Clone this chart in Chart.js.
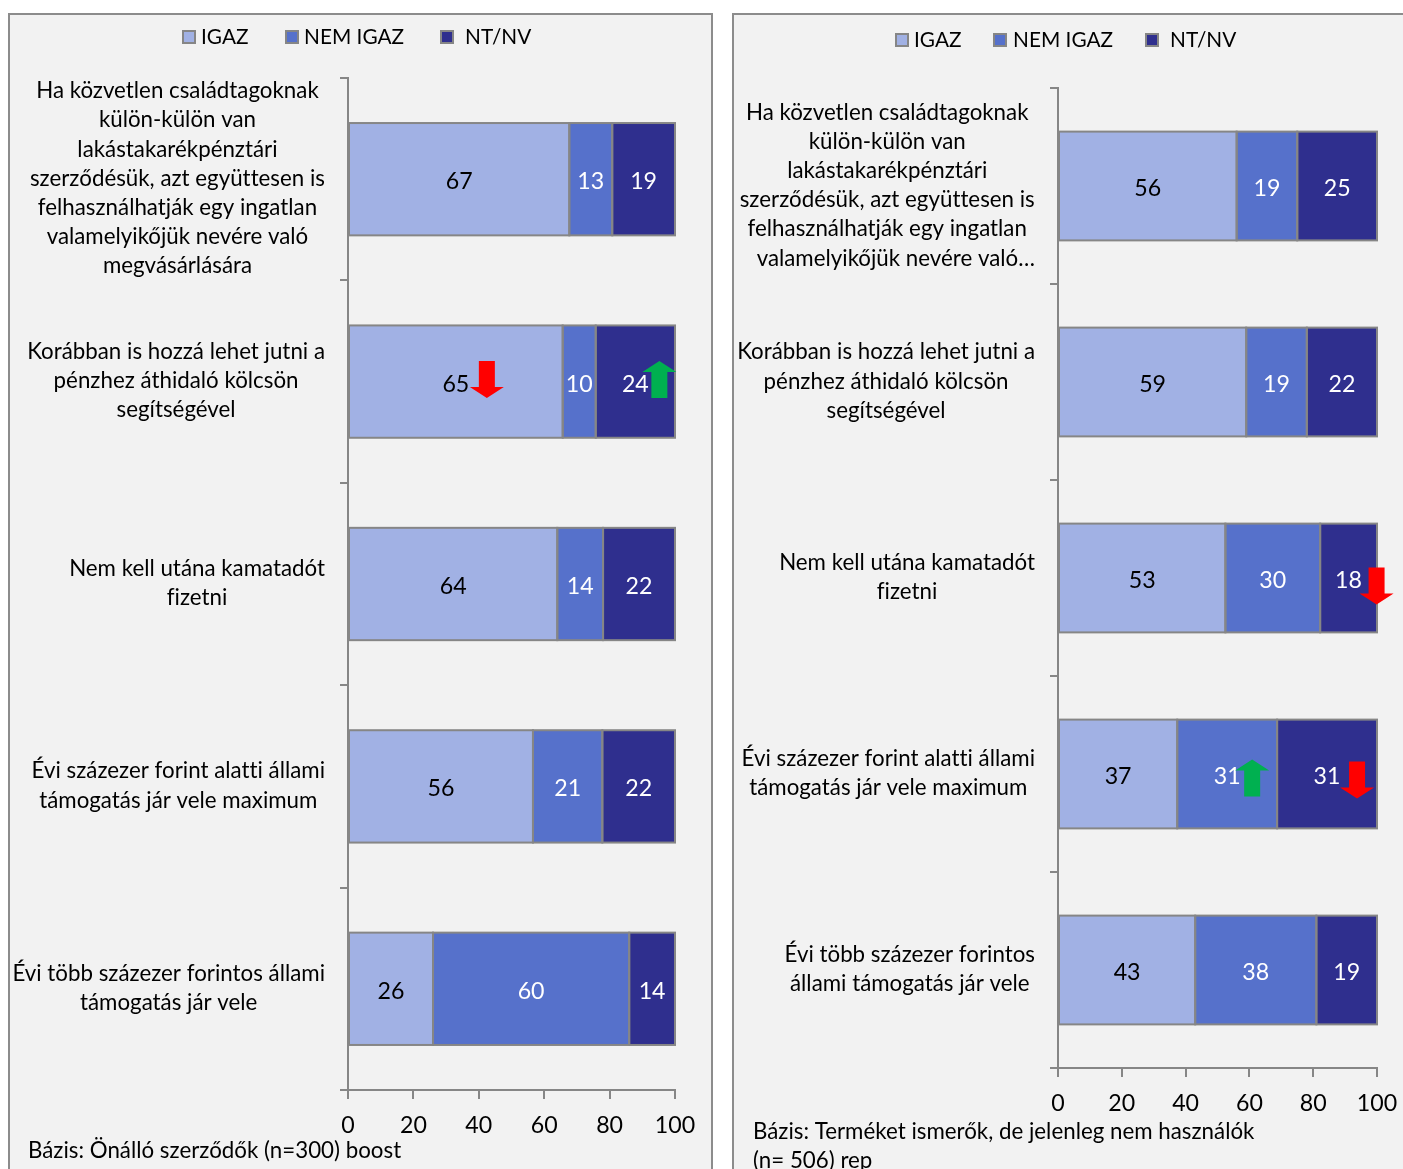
<!DOCTYPE html>
<html lang="hu">
<head>
<meta charset="utf-8">
<title>Lakástakarékpénztár állítások</title>
<script src="https://cdn.jsdelivr.net/npm/chart.js@4"></script>
<style>
  html, body { margin: 0; padding: 0; background: #fff; overflow: hidden; }
  body { width: 1403px; height: 1169px; position: relative; }
  .panel { position: absolute; top: 13px; height: 1200px; background: #f2f2f2; border: 2px solid #8c8c8c; box-sizing: border-box; }
  #panelLeft { left: 8px; width: 705px; }
  #panelRight { left: 732px; width: 720px; }
  canvas { position: absolute; top: 15px; }
  #chartLeft { left: 11px; }
  #chartRight { left: 735px; }
</style>
</head>
<body>
<div class="panel" id="panelLeft"></div>
<div class="panel" id="panelRight"></div>
<canvas id="chartLeft" width="699" height="1154"></canvas>
<canvas id="chartRight" width="700" height="1154"></canvas>
<script>
const seriesNames = ['IGAZ', 'NEM IGAZ', 'NT/NV'];
const xTicks = [0, 20, 40, 60, 80, 100];

const leftCategories = [
  ['Ha közvetlen családtagoknak', 'külön-külön van', 'lakástakarékpénztári', 'szerződésük, azt együttesen is', 'felhasználhatják egy ingatlan', 'valamelyikőjük nevére való', 'megvásárlására'],
  ['Korábban is hozzá lehet jutni a', 'pénzhez áthidaló kölcsön', 'segítségével'],
  ['Nem kell utána kamatadót', 'fizetni'],
  ['Évi százezer forint alatti állami', 'támogatás jár vele maximum'],
  ['Évi több százezer forintos állami', 'támogatás jár vele']
];
const leftIgaz = [67, 65, 64, 56, 26];
const leftNemIgaz = [13, 10, 14, 21, 60];
const leftNtNv = [19, 24, 22, 22, 14];
const leftNote = ['Bázis: Önálló szerződők (n=300) boost'];

const rightCategories = [
  ['Ha közvetlen családtagoknak', 'külön-külön van', 'lakástakarékpénztári', 'szerződésük, azt együttesen is', 'felhasználhatják egy ingatlan', '   valamelyikőjük nevére való…'],
  ['Korábban is hozzá lehet jutni a', 'pénzhez áthidaló kölcsön', 'segítségével'],
  ['Nem kell utána kamatadót', 'fizetni'],
  ['Évi százezer forint alatti állami', 'támogatás jár vele maximum'],
  ['Évi több százezer forintos', 'állami támogatás jár vele']
];
const rightIgaz = [56, 59, 53, 37, 43];
const rightNemIgaz = [19, 19, 30, 31, 38];
const rightNtNv = [25, 22, 18, 31, 19];
const rightNote = ['Bázis: Terméket ismerők, de jelenleg nem használók', '(n= 506) rep'];

// significant changes: row, series index, direction, nudge from the bar centre
const leftArrows = [
  { row: 1, series: 0, dir: 'down', dx: 31, dy: -2 },
  { row: 1, series: 2, dir: 'up', dx: 24, dy: -2 }
];
const rightArrows = [
  { row: 2, series: 2, dir: 'down', dx: 28, dy: 8 },
  { row: 3, series: 1, dir: 'up', dx: 25, dy: 4 },
  { row: 3, series: 2, dir: 'down', dx: 30, dy: 6 }
];

const FONT = 'Lato, Carlito, sans-serif';
const TEXT_SIZE = 22.3;
const DIGIT_SIZE = 23.2;
const LEGEND_SIZE = 20.8;
const AXIS = '#868686';
const fills = ['#a1b1e4', '#5671cb', '#2f2f8e'];
const labelColors = ['#000', '#fff', '#fff'];

Chart.defaults.font.family = FONT;
Chart.defaults.font.size = DIGIT_SIZE;
Chart.defaults.color = '#000';

const font = size => size + 'px ' + FONT;

// legend, wrapped category labels, segment outlines, value labels, arrows and the base note
const panelText = {
  id: 'panelText',
  afterDraw(chart, args, opts) {
    const ctx = chart.ctx;
    const yScale = chart.scales.y;
    ctx.save();
    ctx.textBaseline = 'middle';
    ctx.letterSpacing = '0.01px'; // keeps "fi" and "tt" from turning into ligatures

    // legend
    ctx.font = font(LEGEND_SIZE);
    seriesNames.forEach((name, i) => {
      ctx.fillStyle = fills[i];
      ctx.strokeStyle = AXIS;
      ctx.lineWidth = 2;
      ctx.fillRect(opts.legendBox[i], opts.legendY - 7, 14, 14);
      ctx.strokeRect(opts.legendBox[i] + 1, opts.legendY - 6, 12, 12);
      ctx.fillStyle = '#000';
      ctx.textAlign = 'left';
      ctx.fillText(name, opts.legendText[i], opts.legendY);
    });

    // category labels: lines centred inside a block that sits against the axis
    ctx.font = font(TEXT_SIZE);
    chart.data.labels.forEach((lines, i) => {
      const block = Math.max(...lines.map(l => ctx.measureText(l).width));
      const cx = opts.labelRight - block / 2;
      const top = yScale.getPixelForValue(i) - (lines.length - 1) * opts.lineGap / 2 + opts.labelDy;
      ctx.textAlign = 'center';
      lines.forEach((line, n) => ctx.fillText(line, cx, top + n * opts.lineGap));
    });

    // one shared 2px outline between neighbouring segments
    chart.data.datasets.forEach((ds, s) => {
      chart.getDatasetMeta(s).data.forEach(bar => {
        ctx.strokeStyle = AXIS;
        ctx.lineWidth = 2;
        ctx.strokeRect(bar.base, bar.y - bar.height / 2, bar.x - bar.base, bar.height);
      });
    });

    // value labels state the raw figures, centred in each segment
    ctx.font = font(DIGIT_SIZE);
    ctx.textAlign = 'center';
    chart.data.datasets.forEach((ds, s) => {
      const meta = chart.getDatasetMeta(s);
      ctx.fillStyle = labelColors[s];
      meta.data.forEach((bar, i) => {
        ctx.fillText(ds.rawValues[i], (bar.x + bar.base) / 2, bar.y + 2.5);
      });
    });

    opts.arrows.forEach(a => {
      const bar = chart.getDatasetMeta(a.series).data[a.row];
      drawArrow(ctx, (bar.x + bar.base) / 2 + a.dx, bar.y + a.dy, a.dir);
    });

    ctx.font = font(TEXT_SIZE);
    ctx.fillStyle = '#000';
    ctx.textAlign = 'left';
    opts.note.forEach((line, n) => ctx.fillText(line, opts.noteX, opts.noteY + n * opts.lineGap));
    ctx.restore();
  }
};

function drawArrow(ctx, x, y, dir) {
  const s = dir === 'up' ? -1 : 1;
  ctx.fillStyle = dir === 'up' ? '#00b050' : '#ff0000';
  ctx.beginPath();
  ctx.moveTo(x - 8, y - 18.5 * s);
  ctx.lineTo(x + 8, y - 18.5 * s);
  ctx.lineTo(x + 8, y + 7.5 * s);
  ctx.lineTo(x + 17, y + 7.5 * s);
  ctx.lineTo(x, y + 18.5 * s);
  ctx.lineTo(x - 17, y + 7.5 * s);
  ctx.lineTo(x - 8, y + 7.5 * s);
  ctx.closePath();
  ctx.fill();
}

// 100% stacked: rounded figures may add up to 99 or 101, each bar still fills the axis
function makeDatasets(rows) {
  const totals = rows[0].map((_, i) => rows[0][i] + rows[1][i] + rows[2][i]);
  return rows.map((values, s) => ({
    label: seriesNames[s],
    rawValues: values,
    data: values.map((v, i) => v / totals[i] * 100),
    backgroundColor: fills[s],
    borderWidth: 0,
    inflateAmount: 0,
    categoryPercentage: 0.555,
    barPercentage: 1
  }));
}

function makeChart(id, categories, rows, layout, textOpts) {
  return new Chart(document.getElementById(id).getContext('2d'), {
    type: 'bar',
    data: { labels: categories, datasets: makeDatasets(rows) },
    plugins: [panelText],
    options: {
      indexAxis: 'y',
      responsive: false,
      animation: false,
      layout: { padding: { top: layout.top, right: layout.right, bottom: 0, left: 0 } },
      plugins: {
        legend: { display: false },
        tooltip: { enabled: false },
        panelText: textOpts
      },
      scales: {
        x: {
          stacked: true,
          min: 0,
          max: 100,
          afterBuildTicks: scale => { scale.ticks = xTicks.map(value => ({ value })); },
          afterFit: scale => { scale.height = layout.xAxisHeight; },
          border: { color: AXIS, width: 2 },
          grid: { drawOnChartArea: false, color: AXIS, lineWidth: 2, tickLength: 9 },
          ticks: { color: '#000', padding: 13, maxRotation: 0, autoSkip: false }
        },
        y: {
          stacked: true,
          afterFit: scale => { scale.width = layout.yAxisWidth; },
          border: { color: AXIS, width: 2 },
          grid: { drawOnChartArea: false, color: AXIS, lineWidth: 2, tickLength: 8 },
          ticks: { display: false }
        }
      }
    }
  });
}

makeChart('chartLeft', leftCategories, [leftIgaz, leftNemIgaz, leftNtNv],
  { top: 63, right: 35, xAxisHeight: 79, yAxisWidth: 337 },
  {
    legendBox: [171, 274, 429], legendText: [190, 293, 454], legendY: 22,
    labelRight: 314, lineGap: 29.2, labelDy: -0.5,
    arrows: leftArrows, note: leftNote, noteX: 17, noteY: 1136
  });

makeChart('chartRight', rightCategories, [rightIgaz, rightNemIgaz, rightNtNv],
  { top: 73, right: 58, xAxisHeight: 101, yAxisWidth: 323 },
  {
    legendBox: [160, 258, 410], legendText: [179, 278, 435], legendY: 25,
    labelRight: 300, lineGap: 29.2, labelDy: -0.5,
    arrows: rightArrows, note: rightNote, noteX: 18, noteY: 1117
  });
</script>
</body>
</html>
